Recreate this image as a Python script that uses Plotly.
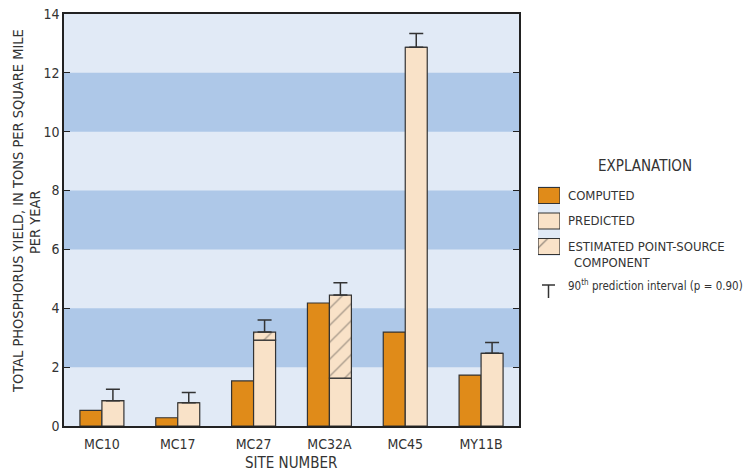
import plotly.graph_objects as go

sites = ["MC10", "MC17", "MC27", "MC32A", "MC45", "MY11B"]
computed = [0.53, 0.28, 1.53, 4.18, 3.19, 1.73]
predicted_base = [0.86, 0.79, 2.92, 1.63, 12.87, 2.47]
point_source = [0.0, 0.0, 0.27, 2.82, 0.0, 0.0]
interval_upper = [1.25, 1.14, 3.60, 4.87, 13.34, 2.84]
y_ticks = [0, 2, 4, 6, 8, 10, 12, 14]
bands = [(2, 4), (6, 8), (10, 12)]

C_COMP = "#E08B19"
C_PRED = "#F9E2C8"
C_LINE = "#333333"
C_BAND = "#AEC8E8"
C_BG = "#E1EAF6"
FONT = "DejaVu Sans Condensed, sans-serif"

W = 0.29
idx = list(range(len(sites)))
pred_total = [b + p for b, p in zip(predicted_base, point_source)]

fig = go.Figure()
fig.add_bar(x=idx, y=computed, width=W, offset=-W, marker=dict(color=C_COMP, line=dict(color=C_LINE, width=1.2)),
            name="COMPUTED", showlegend=False)
fig.add_bar(x=idx, y=predicted_base, width=W, offset=0, marker=dict(color=C_PRED, line=dict(color=C_LINE, width=1.2)),
            name="PREDICTED", showlegend=False)
fig.add_bar(x=idx, y=point_source, base=predicted_base, width=W, offset=0,
            marker=dict(color=C_PRED, line=dict(color=C_LINE, width=1.2),
                        pattern=dict(shape="/", fgcolor=C_LINE, bgcolor=C_PRED, size=12, solidity=0.1)),
            name="ESTIMATED POINT-SOURCE COMPONENT", showlegend=False)
fig.add_scatter(x=[i + W / 2 for i in idx], y=pred_total, mode="markers",
                marker=dict(size=1, color="rgba(0,0,0,0)"),
                error_y=dict(type="data", symmetric=False,
                             array=[u - t for u, t in zip(interval_upper, pred_total)],
                             arrayminus=[0] * len(sites), color=C_LINE, thickness=1.5, width=7),
                showlegend=False, hoverinfo="skip")

# legend swatches on a helper axis (pixel-like units)
fig.add_bar(x=[0.5], y=[16], base=[187.5], width=1, xaxis="x2", yaxis="y2",
            marker=dict(color=C_COMP, line=dict(color=C_LINE, width=1.2)), showlegend=False, hoverinfo="skip")
fig.add_bar(x=[0.5], y=[16], base=[213], width=1, xaxis="x2", yaxis="y2",
            marker=dict(color=C_PRED, line=dict(color=C_LINE, width=1.2)), showlegend=False, hoverinfo="skip")
fig.add_bar(x=[0.5], y=[16], base=[238.5], width=1, xaxis="x2", yaxis="y2",
            marker=dict(color=C_PRED, line=dict(color=C_LINE, width=1.2),
                        pattern=dict(shape="/", fgcolor=C_LINE, bgcolor=C_PRED, size=22, solidity=0.06)),
            showlegend=False, hoverinfo="skip")

ML, MT, MB = 64, 14, 48
FW, FH = 752, 474
PW = FW - ML
PH = FH - MT - MB


def px(x):
    return (x - ML) / PW


def py(y):
    return (FH - MB - y) / PH


shapes = []
for lo, hi in bands:
    shapes.append(dict(type="rect", xref="x domain", yref="y", x0=0, x1=1, y0=lo, y1=hi,
                       fillcolor=C_BAND, line=dict(width=0), layer="below"))
# interval glyph in explanation
shapes.append(dict(type="line", xref="paper", yref="paper", x0=px(542), x1=px(555), y0=py(285), y1=py(285),
                   line=dict(color=C_LINE, width=1.5)))
shapes.append(dict(type="line", xref="paper", yref="paper", x0=px(548.5), x1=px(548.5), y0=py(285), y1=py(298),
                   line=dict(color=C_LINE, width=1.5)))

ann = []


def text(x, y, s, size=13, anchor="left", angle=0):
    ann.append(dict(xref="paper", yref="paper", x=px(x), y=py(y), text=s, showarrow=False, textangle=angle,
                    xanchor=anchor, yanchor="middle", font=dict(family=FONT, size=size, color=C_LINE)))


text(645, 166, "EXPLANATION", size=15, anchor="center")
text(566, 195, "COMPUTED")
text(566, 220, "PREDICTED")
text(566, 246, "ESTIMATED POINT-SOURCE")
text(572, 262, "COMPONENT")
text(566, 286, "90<sup>th</sup> prediction interval (p = 0.90)", size=11.5)
text(18, 211, "TOTAL PHOSPHORUS YIELD, IN TONS PER SQUARE MILE", size=14.5, anchor="center", angle=-90)
text(35, 222, "PER YEAR", size=14.5, anchor="center", angle=-90)
text(291, 463, "SITE NUMBER", size=15, anchor="center")

fig.update_layout(
    width=FW, height=FH,
    margin=dict(l=ML, r=0, t=MT, b=MB),
    paper_bgcolor="white", plot_bgcolor=C_BG,
    barmode="overlay",
    font=dict(family=FONT, size=14, color=C_LINE),
    xaxis=dict(domain=[0, px(519)], range=[-0.5, len(sites) - 0.5], tickvals=idx, ticktext=sites,
               showgrid=False, zeroline=False, showline=True, linecolor="#222", linewidth=1.5, mirror=True,
               ticks="", ticklabelstandoff=4, fixedrange=True),
    yaxis=dict(range=[0, 14], tickvals=y_ticks, showgrid=False, zeroline=False, showline=True,
               linecolor="#222", linewidth=1.5, mirror="ticks", ticks="inside", ticklen=6, tickcolor="#222",
               tickwidth=1.2, ticklabeloverflow="allow", fixedrange=True),
    xaxis2=dict(domain=[px(538), px(560)], range=[0, 1], visible=False, anchor="y2", fixedrange=True),
    yaxis2=dict(domain=[py(256), py(186)], range=[256, 186], visible=False, anchor="x2", fixedrange=True),
    shapes=shapes, annotations=ann,
)

fig.write_html("out.html", config={"displayModeBar": False},
               post_script="document.body.style.margin='0';")
